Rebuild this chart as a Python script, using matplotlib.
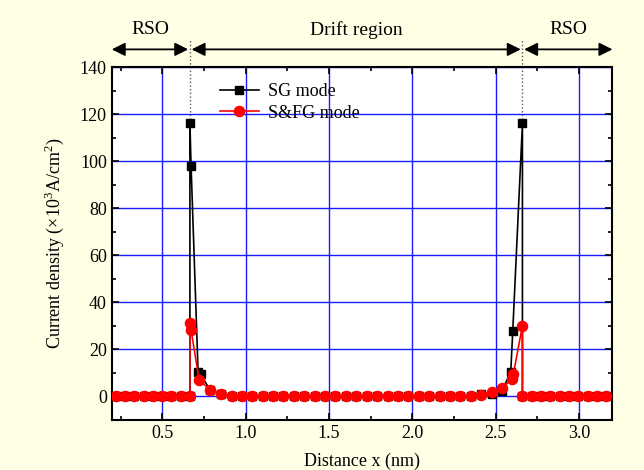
import matplotlib
matplotlib.use('Agg')
import matplotlib.pyplot as plt
from matplotlib.ticker import MultipleLocator

plt.rcParams['font.family'] = ['Liberation Serif', 'DejaVu Serif']
plt.rcParams['mathtext.fontset'] = 'custom'
plt.rcParams['mathtext.rm'] = 'Liberation Serif'

# drift-region grid shared by both curves (0.976 ... 2.476)
mid_x = [0.976, 1.038, 1.101, 1.163, 1.226, 1.288, 1.351, 1.413, 1.476, 1.538,
         1.601, 1.663, 1.726, 1.788, 1.851, 1.913, 1.976, 2.038, 2.101, 2.163,
         2.226, 2.288, 2.351, 2.413, 2.476]
rso_left_x = [0.220, 0.276, 0.331, 0.387, 0.443, 0.498, 0.554, 0.609, 0.665]
rso_right_x = [2.660, 2.716, 2.772, 2.828, 2.884, 2.940, 2.996, 3.052, 3.108, 3.164]

# SG mode
sg_x = rso_left_x + [0.665, 0.672, 0.714, 0.730, 0.785, 0.850, 0.915] + mid_x + \
       [2.539, 2.590, 2.602, 2.660] + rso_right_x
sg_y = [0] * 9 + [116, 98, 10.6, 9.6, 2.6, 1.0, 0.4] + \
       [0.2, 0.1] + [0] * 19 + [0.2, 0.4, 0.9, 0.9] + \
       [2.5, 10.6, 27.9, 116] + [0] * 10
sg_y = sg_y[:len(sg_x)]

# S&FG mode
sfg_x = rso_left_x + [0.665, 0.672, 0.720, 0.785, 0.850, 0.915] + mid_x + \
        [2.539, 2.596, 2.606, 2.660] + rso_right_x
sfg_y = [0] * 9 + [31.4, 28.3, 7.1, 2.8, 1.1, 0.4] + \
        [0.2, 0.1] + [0] * 20 + [0.3, 0.7, 2.1] + \
        [3.6, 7.4, 9.6, 30.1] + [0] * 10

peak_x = [0.665, 2.660]
regions = [('RSO', 0.196, 0.655), ('Drift region', 0.675, 2.650), ('RSO', 2.670, 3.200)]

fig = plt.figure(figsize=(6.44, 4.70), dpi=100, facecolor='#FFFFE6')
ax = fig.add_axes([0.1735, 0.1064, 0.7775, 0.751])
ax.set_facecolor('white')

ax.plot(sg_x, sg_y, color='black', lw=1.2, marker='s', ms=5.2, label='SG mode', zorder=3)
ax.plot(sfg_x, sfg_y, color='red', lw=1.2, marker='o', ms=7.3, label='S&FG mode', zorder=4)

ax.set_xlim(0.196, 3.2)
ax.set_ylim(-10, 140)
ax.xaxis.set_major_locator(MultipleLocator(0.5))
ax.xaxis.set_minor_locator(MultipleLocator(0.25))
ax.yaxis.set_major_locator(MultipleLocator(20))
ax.yaxis.set_minor_locator(MultipleLocator(10))
ax.xaxis.set_major_formatter(plt.FormatStrFormatter('%.1f'))
ax.tick_params(which='both', direction='in', top=True, right=True, labelsize=13, width=1.2)
ax.tick_params(which='major', length=5)
ax.tick_params(which='minor', length=3)
ax.grid(True, which='major', color='#1a1aff', lw=1.0, zorder=1)
for s in ax.spines.values():
    s.set_linewidth(1.5)

ax.set_xlabel('Distance x (nm)', fontsize=13, labelpad=8)
ax.set_ylabel(r'Current density ($\times$10$^{\mathrm{3}}$A/cm$^{\mathrm{2}}$)', fontsize=13, labelpad=10)

# dotted markers of region boundaries
for px in peak_x:
    ax.plot([px, px], [116, 152], color='0.35', ls=':', lw=1, clip_on=False, zorder=2)

# region arrows and names above the axes
for name, x0, x1 in regions:
    ax.annotate('', xy=(x0, 147.5), xytext=(x1, 147.5), annotation_clip=False,
                arrowprops=dict(arrowstyle='<|-|>', color='black', lw=1.3, mutation_scale=20,
                                shrinkA=0, shrinkB=0))
    ax.text((x0 + x1) / 2, 155.8, name, ha='center', va='center', fontsize=14, clip_on=False)

ax.legend(loc='upper left', bbox_to_anchor=(0.19, 0.99), frameon=False, fontsize=13,
          handlelength=2.2, handletextpad=0.5, labelspacing=0.25, borderpad=0.2)

fig.savefig('out.png', dpi=100, facecolor=fig.get_facecolor())
